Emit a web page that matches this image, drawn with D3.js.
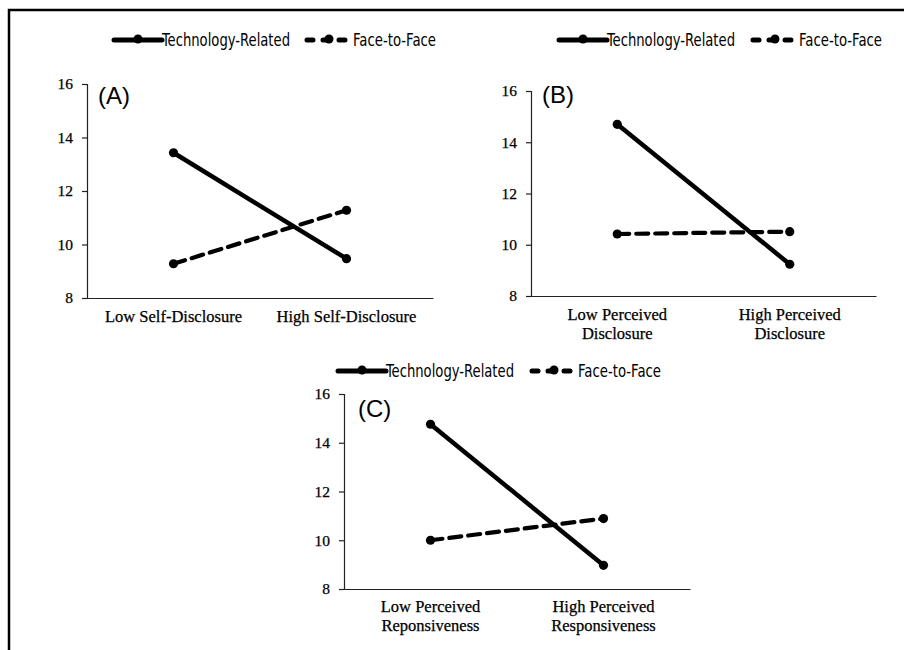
<!DOCTYPE html>
<html>
<head>
<meta charset="utf-8">
<script src="https://cdn.jsdelivr.net/npm/d3@7"></script>
<style>
  html, body { margin: 0; padding: 0; background: #fff; }
  svg { display: block; }
</style>
</head>
<body>
<svg id="chart" width="904" height="650"></svg>
<script>
// ---- Data ----
const seriesNames = ["Technology-Related", "Face-to-Face"];
const panelLabels = ["(A)", "(B)", "(C)"];
const yTicks = [8, 10, 12, 14, 16];

const categoriesA = [["Low Self-Disclosure"], ["High Self-Disclosure"]];
const categoriesB = [["Low Perceived", "Disclosure"], ["High Perceived", "Disclosure"]];
const categoriesC = [["Low Perceived", "Reponsiveness"], ["High Perceived", "Responsiveness"]];

const techA = [13.43, 9.47];
const f2fA  = [9.28, 11.28];
const techB = [14.70, 9.24];
const f2fB  = [10.42, 10.51];
const techC = [14.76, 8.97];
const f2fC  = [10.00, 10.89];

// ---- Layout (positions only) ----
const panels = [
  { cats: categoriesA, tech: techA, f2f: f2fA, label: panelLabels[0],
    x0: 87, x1: 433, yTop: 84, yBot: 298, legY: 40, legX: 114, legX2: 305,
    labX: 98, labY: 104, catY: 322 },
  { cats: categoriesB, tech: techB, f2f: f2fB, label: panelLabels[1],
    x0: 531, x1: 876, yTop: 91, yBot: 296, legY: 40, legX: 559, legX2: 751,
    labX: 542, labY: 103, catY: 320 },
  { cats: categoriesC, tech: techC, f2f: f2fC, label: panelLabels[2],
    x0: 344, x1: 690, yTop: 394, yBot: 589, legY: 371, legX: 338, legX2: 530,
    labX: 358, labY: 417, catY: 612 }
];

const svg = d3.select("#chart");

// Outer frame
svg.append("rect")
  .attr("x", 9).attr("y", 10)
  .attr("width", 1000).attr("height", 1000)
  .attr("fill", "none").attr("stroke", "#000").attr("stroke-width", 2.5);

const serifFont = "'Liberation Serif', 'Times New Roman', serif";
const legendFont = "'Liberation Sans Narrow', 'DejaVu Sans Condensed', 'Open Sans', sans-serif";
const dashPattern = "12,7";

panels.forEach(p => {
  const g = svg.append("g");
  const x = d3.scalePoint().domain(p.cats.map(c => c.join(" "))).range([p.x0, p.x1]).padding(0.5);
  const y = d3.scaleLinear().domain([8, 16]).range([p.yBot, p.yTop]);

  // Y axis
  const yAxis = d3.axisLeft(y).tickValues(yTicks).tickSize(5).tickPadding(9).tickFormat(d3.format("d"));
  const ya = g.append("g").attr("transform", `translate(${p.x0},0)`).call(yAxis)
    .attr("font-family", null).attr("font-size", null);
  ya.select(".domain").attr("stroke", "#222").attr("stroke-width", 1.2);
  ya.selectAll(".tick line").attr("stroke", "#222").attr("stroke-width", 1.2);
  ya.selectAll(".tick text")
    .style("font-family", serifFont).style("font-size", "15.5px")
    .attr("fill", "#000").attr("stroke", "#000").attr("stroke-width", 0.25);

  // X axis
  const xAxis = d3.axisBottom(x).tickSize(0).tickFormat("");
  const xa = g.append("g").attr("transform", `translate(0,${p.yBot})`).call(xAxis);
  xa.select(".domain").attr("stroke", "#222").attr("stroke-width", 1.2);

  // Category labels
  p.cats.forEach(c => {
    const t = g.append("text")
      .attr("x", x(c.join(" ")))
      .attr("y", p.catY)
      .attr("text-anchor", "middle")
      .style("font-family", serifFont)
      .style("font-size", "16.5px")
      .attr("fill", "#000").attr("stroke", "#000").attr("stroke-width", 0.25);
    c.forEach((line, i) => {
      t.append("tspan").attr("x", x(c.join(" "))).attr("dy", i === 0 ? 0 : 18.5).text(line);
    });
  });

  // Lines
  const line = d3.line().x((d, i) => x(p.cats[i].join(" "))).y(d => y(d));
  g.append("path").datum(p.f2f).attr("d", line)
    .attr("fill", "none").attr("stroke", "#000").attr("stroke-width", 4.2)
    .attr("stroke-dasharray", dashPattern).attr("stroke-linecap", "round");
  g.append("path").datum(p.tech).attr("d", line)
    .attr("fill", "none").attr("stroke", "#000").attr("stroke-width", 4.5);
  [p.tech, p.f2f].forEach(s => {
    g.selectAll(null).data(s).enter().append("circle")
      .attr("cx", (d, i) => x(p.cats[i].join(" ")))
      .attr("cy", d => y(d))
      .attr("r", 4.6).attr("fill", "#000");
  });

  // Panel label
  g.append("text").attr("x", p.labX).attr("y", p.labY)
    .style("font-family", "'Liberation Sans', Arial, sans-serif")
    .style("font-size", "24px").attr("fill", "#000").text(p.label);

  // Legend
  const lg = g.append("g");
  const segLen = 48;
  // tech
  lg.append("line").attr("x1", p.legX).attr("x2", p.legX + segLen)
    .attr("y1", p.legY).attr("y2", p.legY)
    .attr("stroke", "#000").attr("stroke-width", 5).attr("stroke-linecap", "round");
  lg.append("circle").attr("cx", p.legX + segLen / 2).attr("cy", p.legY - 1).attr("r", 4.5).attr("fill", "#000");
  lg.append("text").attr("x", p.legX + segLen).attr("y", p.legY + 6)
    .style("font-family", legendFont).style("font-size", "17px")
    .attr("textLength", 128).attr("lengthAdjust", "spacingAndGlyphs")
    .attr("fill", "#000").text(seriesNames[0]);
  // f2f
  lg.append("line").attr("x1", p.legX2 + 2).attr("x2", p.legX2 + segLen - 2)
    .attr("y1", p.legY).attr("y2", p.legY)
    .attr("stroke", "#000").attr("stroke-width", 5).attr("stroke-linecap", "round")
    .attr("stroke-dasharray", "6,10");
  lg.append("circle").attr("cx", p.legX2 + segLen / 2).attr("cy", p.legY - 1).attr("r", 4.5).attr("fill", "#000");
  lg.append("text").attr("x", p.legX2 + segLen).attr("y", p.legY + 6)
    .style("font-family", legendFont).style("font-size", "17px")
    .attr("textLength", 83).attr("lengthAdjust", "spacingAndGlyphs")
    .attr("fill", "#000").text(seriesNames[1]);
});
</script>
</body>
</html>
